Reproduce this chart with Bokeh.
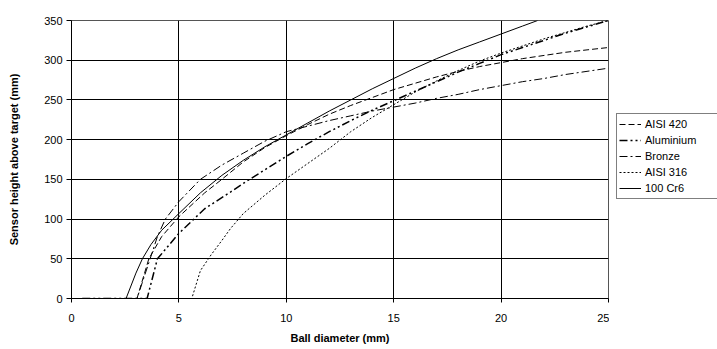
from bokeh.plotting import figure
from bokeh.models import Range1d, Legend, LegendItem, FixedTicker
from bokeh.layouts import row
from bokeh.embed import file_html
from bokeh.resources import INLINE

# ---- data ----
cr6_x = [0.5, 2.54, 3.0, 3.3, 3.7, 4.2, 5, 6, 7, 8, 9, 10, 11, 12, 13, 14, 15, 16, 17, 18, 19, 20, 21, 21.7]
cr6_y = [0, 0, 32, 50, 68, 86, 107, 133, 155, 174, 191, 206, 221, 236, 250, 264, 277, 290, 302, 313, 323, 333, 343, 350]

a420_x = [0.5, 3.05, 3.6, 4.2, 5, 6.2, 7, 8, 9, 10, 11, 12, 13, 14, 15, 16, 17, 18, 19, 20, 21, 22, 23, 24, 25]
a420_y = [0, 0, 50, 78, 103, 133, 150, 172, 190, 205, 219, 232, 243, 253, 263, 271, 279, 286, 292, 297, 302, 306, 310, 313, 316]

bronze_x = [0.5, 3.05, 3.6, 4.0, 4.37, 5, 6, 7, 8, 9, 10, 11, 12, 13, 14, 15, 16, 17, 18, 19, 20, 21, 22, 23, 24, 25]
bronze_y = [0, 0, 45, 78, 100, 122, 150, 168, 183, 198, 210, 217, 224, 230, 236, 241, 246, 252, 257, 263, 268, 273, 277, 282, 286, 290]

alu_x = [0.5, 3.52, 4.0, 5, 6.2, 7.4, 8, 9, 10, 11, 12, 13, 14, 15, 16, 17, 18, 19, 20, 21, 22, 23, 24, 25]
alu_y = [0, 0, 50, 82, 113, 134, 145, 162, 179, 195, 210, 224, 237, 249, 261, 273, 285, 296, 307, 316, 325, 334, 342, 350]

a316_x = [0.5, 5.6, 6.0, 6.5, 7.0, 7.4, 8, 9, 10, 11, 12, 13, 14, 15, 16, 17, 18, 19, 20, 21, 22, 23, 24, 25]
a316_y = [0, 0, 35, 55, 73, 88, 107, 130, 151, 170, 189, 210, 228, 244, 260, 274, 287, 299, 309, 318, 327, 335, 343, 350]

series_names = ["AISI 420", "Aluminium", "Bronze", "AISI 316", "100 Cr6"]

x_ticks = [0, 5, 10, 15, 20, 25]
y_ticks = [0, 50, 100, 150, 200, 250, 300, 350]

FONT = "Liberation Sans"

styles = [
    dict(line_color="black", line_width=1, line_dash="6 3"),
    dict(line_color="black", line_width=1.5, line_dash="8 3 2 3 2 3"),
    dict(line_color="black", line_width=1, line_dash="8 3 2 3"),
    dict(line_color="black", line_width=1, line_dash="2 2"),
    dict(line_color="black", line_width=1, line_dash="solid"),
]

p = figure(frame_width=537, frame_height=278, output_backend="svg", toolbar_location=None,
           x_range=Range1d(0, 25), y_range=Range1d(0, 350),
           min_border_left=71, min_border_right=1, min_border_top=20, min_border_bottom=51)

p.background_fill_color = "white"
p.border_fill_color = "white"
p.outline_line_color = "#555555"
p.outline_line_width = 1

for ax in (p.xaxis[0], p.yaxis[0]):
    ax.axis_line_color = "black"
    ax.major_tick_line_color = "black"
    ax.minor_tick_line_color = None
    ax.major_tick_in = 0
    ax.major_label_text_font = FONT
    ax.major_label_text_font_size = "11px"
    ax.major_label_text_color = "black"
    ax.axis_label_text_font = FONT
    ax.axis_label_text_font_size = "11px"
    ax.axis_label_text_font_style = "bold"
    ax.axis_label_text_color = "black"

p.xaxis.ticker = FixedTicker(ticks=x_ticks)
p.yaxis.ticker = FixedTicker(ticks=y_ticks)
p.xaxis.axis_label = "Ball diameter (mm)"
p.yaxis.axis_label = "Sensor height above target (mm)"
p.xaxis.major_tick_out = 4
p.yaxis.major_tick_out = 5
p.xaxis.major_label_standoff = 11
p.yaxis.major_label_standoff = 4
p.xaxis.axis_label_standoff = 7
p.yaxis.axis_label_standoff = 21

p.xgrid.ticker = FixedTicker(ticks=x_ticks)
p.ygrid.ticker = FixedTicker(ticks=y_ticks)
p.grid.grid_line_color = "black"
p.grid.grid_line_width = 1

all_x = [a420_x, alu_x, bronze_x, a316_x, cr6_x]
all_y = [a420_y, alu_y, bronze_y, a316_y, cr6_y]
for xs, ys, st in zip(all_x, all_y, styles):
    p.line(xs, ys, **st)

# legend panel (separate small canvas to the right of the plot);
# its ranges are set so that the series themselves fall outside its view
pl = figure(width=108, height=349, output_backend="svg", toolbar_location=None,
            x_range=Range1d(-20, -10), y_range=Range1d(-20, -10),
            min_border=0, min_border_left=0, min_border_right=0,
            min_border_top=0, min_border_bottom=0)
pl.axis.visible = False
pl.grid.visible = False
pl.outline_line_color = None
pl.background_fill_color = "white"
pl.border_fill_color = "white"

items = []
for name, xs, ys, st in zip(series_names, all_x, all_y, styles):
    r = pl.line(xs, ys, **st)
    items.append(LegendItem(label=name, renderers=[r]))

legend = Legend(items=items, location=(7, 99))
legend.border_line_color = "black"
legend.border_line_width = 1
legend.background_fill_color = "white"
legend.background_fill_alpha = 1
legend.label_text_font = FONT
legend.label_text_font_size = "11px"
legend.label_text_color = "black"
legend.glyph_width = 22
legend.glyph_height = 16
legend.label_height = 16
legend.label_width = 80
legend.label_standoff = 4
legend.spacing = 0
legend.padding = 2
legend.margin = 0
pl.add_layout(legend, "center")

layout = row(p, pl, spacing=0)
open("out.html", "w").write(file_html(layout, INLINE))
